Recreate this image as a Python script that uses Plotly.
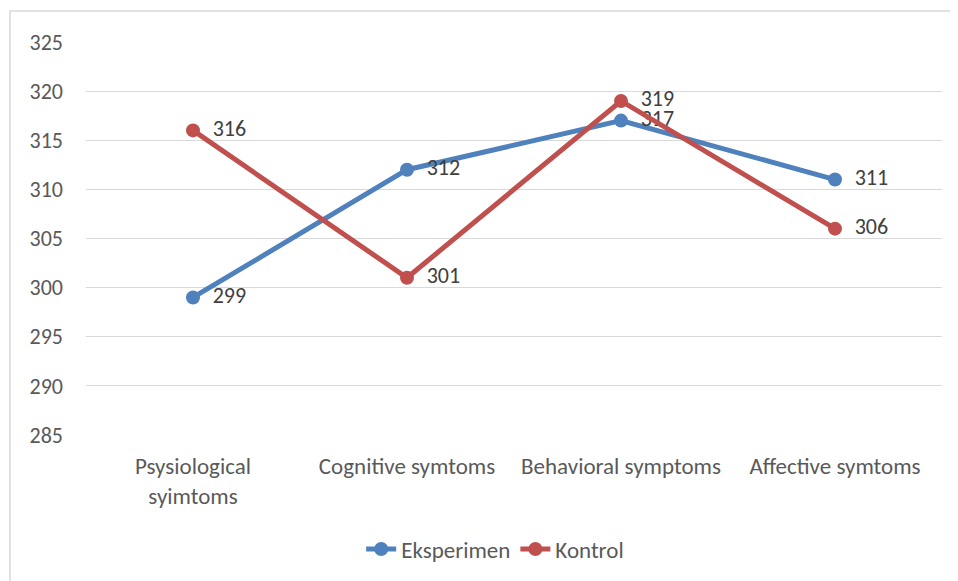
import plotly.graph_objects as go

categories = ["Psysiological<br>syimtoms", "Cognitive symtoms", "Behavioral symptoms", "Affective symtoms"]
eksperimen = [299, 312, 317, 311]
kontrol = [316, 301, 319, 306]
y_ticks = [285, 290, 295, 300, 305, 310, 315, 320, 325]

BLUE = "#4F81BD"
RED = "#C0504D"
FONT = "Carlito, Lato, Calibri, sans-serif"

fig = go.Figure()
for name, vals, color in [("Eksperimen", eksperimen, BLUE), ("Kontrol", kontrol, RED)]:
    fig.add_trace(go.Scatter(
        x=categories, y=vals,
        mode="lines+markers+text",
        name=name,
        line=dict(color=color, width=5),
        marker=dict(color=color, size=14),
        text=["\u00a0\u00a0" + str(v) for v in vals],
        textposition="middle right",
        textfont=dict(size=22, color="#404040", family=FONT),
        cliponaxis=False,
    ))

# outer chart border, as in the source image
fig.add_shape(
    type="rect", xref="paper", yref="paper",
    x0=-76 / 856, x1=1.1, y0=-0.4, y1=1 + 31 / 394,
    line=dict(color="#D9D9D9", width=1.5), fillcolor="rgba(0,0,0,0)",
    layer="below",
)

# page body has an 8px margin, so the figure is 950x573
fig.update_layout(
    width=950, height=573,
    paper_bgcolor="white", plot_bgcolor="white",
    font=dict(family=FONT, color="#595959", size=22),
    margin=dict(l=78, r=16, t=34, b=145),
    showlegend=True,
    legend=dict(
        orientation="h", x=0.478, xanchor="center", y=-0.287, yanchor="middle",
        font=dict(size=23, color="#595959"),
        itemwidth=30,
    ),
)
fig.update_xaxes(
    range=[-0.5, 3.5], automargin=False,
    showgrid=False, showline=False, ticks="", tickfont=dict(size=23),
    ticklabelstandoff=15,
)
fig.update_yaxes(
    range=[285, 325], tickvals=y_ticks, showgrid=True, gridcolor="#D9D9D9",
    gridwidth=1.3, zeroline=False, showline=False, ticks="", automargin=False,
    tickfont=dict(size=22), ticklabelstandoff=22,
)

fig.write_html("out.html")
